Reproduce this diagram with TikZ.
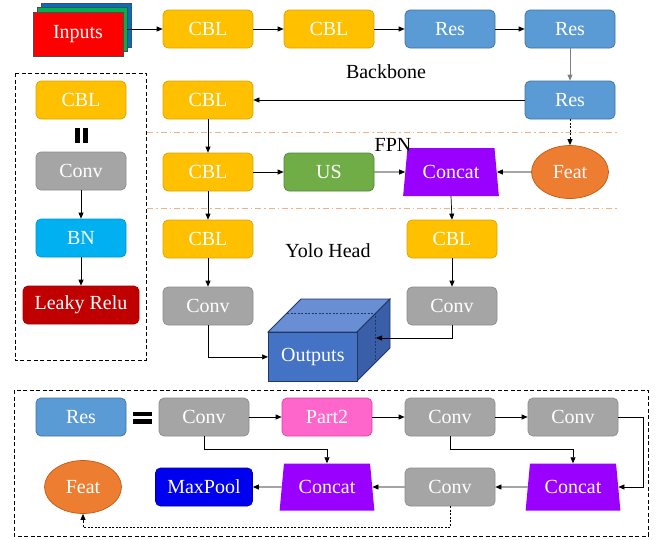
\documentclass[tikz,border=0pt]{standalone}
\usepackage{fontspec}
\setmainfont{Liberation Serif}
\usetikzlibrary{arrows.meta,shapes.geometric,calc}
\definecolor{cblc}{HTML}{FFC000}
\definecolor{cbld}{HTML}{D9A400}
\definecolor{resc}{HTML}{5B9BD5}
\definecolor{resd}{HTML}{41719C}
\definecolor{convc}{HTML}{A5A5A5}
\definecolor{convd}{HTML}{8C8C8C}
\definecolor{bnc}{HTML}{00B0F0}
\definecolor{bnd}{HTML}{0096CC}
\definecolor{lrc}{HTML}{C00000}
\definecolor{lrd}{HTML}{A00000}
\definecolor{usc}{HTML}{70AD47}
\definecolor{usd}{HTML}{548235}
\definecolor{catc}{HTML}{9A00FF}
\definecolor{ptc}{HTML}{FF66CC}
\definecolor{ptd}{HTML}{E0409F}
\definecolor{mpc}{HTML}{0000F0}
\definecolor{mpd}{HTML}{0000A0}
\definecolor{featc}{HTML}{ED7D31}
\definecolor{featd}{HTML}{C55A11}
\definecolor{sepc}{HTML}{F4B183}
\definecolor{cubef}{HTML}{4472C4}
\definecolor{cubet}{HTML}{6A8ED3}
\definecolor{cuber}{HTML}{3A5FA8}
\definecolor{cubed}{HTML}{1F3864}
\tikzset{
  txt/.style={font=\fontsize{20}{24}\selectfont},
  blk/.style={txt, text=white, rounded corners=5pt, minimum width=90pt, minimum height=38pt, inner sep=0pt, line width=0.7pt},
  cbl/.style={blk, fill=cblc, draw=cbld},
  res/.style={blk, fill=resc, draw=resd},
  conv/.style={blk, fill=convc, draw=convd},
  cat/.style={txt, text=white, trapezium, trapezium left angle=78, trapezium right angle=78, trapezium stretches=true, minimum width=96pt, minimum height=48pt, inner sep=0pt, fill=catc, draw=none},
  feat/.style={txt, text=white, ellipse, minimum width=77pt, minimum height=53pt, inner sep=0pt, fill=featc, draw=featd, line width=0.7pt},
  arr/.style={-{Triangle[length=6pt,width=5pt]}, line width=0.7pt, black},
  darr/.style={arr, dash pattern=on 2pt off 1.5pt},
  sep/.style={sepc, line width=1pt, dash pattern=on 6pt off 3pt on 1.5pt off 3pt},
  frame/.style={black, line width=0.8pt, dash pattern=on 4pt off 2.5pt},
}
\begin{document}
\begin{tikzpicture}[x=1pt,y=-1pt]
\useasboundingbox (0,0) rectangle (658,539);
% input stack
\node[fill={rgb,255:red,0;green,112;blue,192}, draw=black!70, minimum width=90pt, minimum height=44pt, inner sep=0pt] (inb) at (86,25) {};
\node[fill={rgb,255:red,0;green,176;blue,80}, draw=black!70, minimum width=90pt, minimum height=44pt, inner sep=0pt] (ing) at (82,29.5) {};
\node[txt, text=white, fill=red, draw=black!70, minimum width=90pt, minimum height=44pt, inner sep=0pt] (inputs) at (78,34) {Inputs};
% backbone
\node[cbl] (c1) at (208,29) {CBL};
\node[cbl] (c2) at (329,29) {CBL};
\node[res] (r1) at (450,29) {Res};
\node[res] (r2) at (570,29) {Res};
\node[res] (r3) at (570,100) {Res};
\node[txt] (bb) at (386,72) {Backbone};
\node[cbl] (c3) at (208,100) {CBL};
% separators
\coordinate (s1a) at (147,132); \coordinate (s1b) at (617,132);
\coordinate (s2a) at (147,208); \coordinate (s2b) at (617,208);
\draw[sep] (s1a) -- (s1b);
\draw[sep] (s2a) -- (s2b);
% FPN
\node[cbl] (c4) at (208,172) {CBL};
\node[blk, fill=usc, draw=usd] (us) at (329,172) {US};
\node[cat] (cat) at (451,172) {Concat};
\node[txt] (fpn) at (393,145) {FPN};
\node[feat] (feat) at (570,172) {Feat};
% head
\node[cbl] (c5) at (208,239) {CBL};
\node[cbl] (c6) at (452,239) {CBL};
\node[txt] (yh) at (328,251) {Yolo Head};
\node[conv] (h1) at (208,306) {Conv};
\node[conv] (h2) at (452,306) {Conv};
% cube
\coordinate (fa) at (268,332); \coordinate (fb) at (357,332); \coordinate (fc) at (357,381); \coordinate (fd) at (268,381);
\coordinate (ta) at (301,299); \coordinate (tb) at (390,299); \coordinate (tc) at (390,348);
\draw[fill=cubet, draw=cubed, line width=0.8pt] (fa) -- (ta) -- (tb) -- (fb) -- cycle;
\draw[fill=cuber, draw=cubed, line width=0.8pt] (fb) -- (tb) -- (tc) -- (fc) -- cycle;
\node[txt, text=white, fill=cubef, draw=cubed, line width=0.8pt, minimum width=89pt, minimum height=49pt, inner sep=0pt, anchor=north west] (out) at (fa) {Outputs};
\coordinate (da) at (287,313); \coordinate (db) at (375,313); \coordinate (dc) at (375,363);
\draw[cubed, line width=0.7pt, dash pattern=on 2pt off 1.5pt] (da) -- (db) -- (dc);
\coordinate (outin) at (376,338);
% legend
\draw[frame] (15,73) rectangle (146,360);
\node[cbl] (lc) at (81,100) {CBL};
\fill[black] (75,128) rectangle (80,143);
\fill[black] (82.5,128) rectangle (87.5,143);
\node[conv] (lconv) at (81,171) {Conv};
\node[blk, fill=bnc, draw=bnd] (lbn) at (81,238) {BN};
\node[blk, fill=lrc, draw=lrd, minimum width=116pt] (llr) at (81,305) {Leaky Relu};
% bottom
\draw[frame] (14,390) rectangle (648,536);
\node[res] (br) at (81,417) {Res};
\fill[black] (133,411.5) rectangle (152,416);
\fill[black] (133,419) rectangle (152,423.5);
\node[conv] (b1) at (204,417) {Conv};
\node[blk, fill=ptc, draw=ptd] (bp) at (327,417) {Part2};
\node[conv] (b2) at (450,417) {Conv};
\node[conv] (b3) at (573,417) {Conv};
\node[feat] (bfeat) at (83,487) {Feat};
\node[blk, fill=mpc, draw=mpd, minimum width=97pt] (bmp) at (204,487) {MaxPool};
\node[cat, minimum width=95pt, minimum height=47pt] (bc1) at (327,487) {Concat};
\node[conv] (b4) at (450,487) {Conv};
\node[cat, minimum width=95pt, minimum height=47pt] (bc2) at (573,487) {Concat};
% connectors main
\draw[arr] (ing.east |- c1.west) -- (c1.west);
\draw[arr] (c1) -- (c2);
\draw[arr] (c2) -- (r1);
\draw[arr] (r1) -- (r2);
\draw[arr, draw=black!50] (r2) -- (r3);
\draw[arr] (r3) -- (c3);
\draw[arr] (c3) -- (c4);
\draw[arr] (c4) -- (us);
\draw[arr] (us) -- (cat.west);
\draw[arr] (feat) -- (cat.east);
\draw[darr] (r3) -- (feat);
\draw[arr] (c4) -- (c5);
\draw[arr] (cat.south) -- (c6.north);
\draw[arr] (c5) -- (h1);
\draw[arr] (c6) -- (h2);
\draw[arr] (h1.south) |- (out.west);
\draw[arr] (h2.south) |- (outin);
% legend connectors
\draw[arr] (lconv) -- (lbn);
\draw[arr] (lbn) -- (llr);
% bottom connectors
\draw[arr] (b1) -- (bp);
\draw[arr] (bp) -- (b2);
\draw[arr] (b2) -- (b3);
\draw[arr] (b3.east) -- ++(25,0) |- (bc2.east);
\draw[arr] (b1.south) -- ++(0,13) -| (bc1.north);
\draw[arr] (b2.south) -- ++(0,13) -| (bc2.north);
\draw[arr] (bc2.west) -- (b4.east);
\draw[arr] (b4.west) -- (bc1.east);
\draw[arr] (bc1.west) -- (bmp.east);
\draw[darr] (b4.south) -- ++(0,21) -| (bfeat.south);
\end{tikzpicture}
\end{document}
